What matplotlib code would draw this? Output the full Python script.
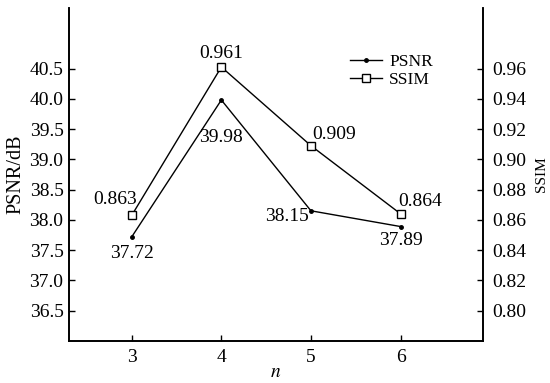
import matplotlib
matplotlib.use("Agg")
import matplotlib.pyplot as plt

plt.rcParams['font.family'] = ['Liberation Serif', 'DejaVu Serif']
plt.rcParams['mathtext.fontset'] = 'stix'

n_values = [3, 4, 5, 6]
psnr = [37.72, 39.98, 38.15, 37.89]
ssim = [0.863, 0.961, 0.909, 0.864]
psnr_ticks = [36.5, 37.0, 37.5, 38.0, 38.5, 39.0, 39.5, 40.0, 40.5]
ssim_ticks = [0.80, 0.82, 0.84, 0.86, 0.88, 0.90, 0.92, 0.94, 0.96]

# label offsets in points (dx, dy) for each point
psnr_offsets = [(0, -12), (0, -27), (-17, -4), (0, -10)]
ssim_offsets = [(-12, 11.5), (0, 10), (16.5, 8), (14, 8.6)]

fig = plt.figure(figsize=(5.5, 3.83), dpi=100)
ax = fig.add_axes([0.1255, 0.1097, 0.7527, 0.8695])
ax2 = ax.twinx()

l1, = ax.plot(n_values, psnr, color='black', linewidth=1.0, marker='o',
              markersize=2.5, label='PSNR')
l2, = ax2.plot(n_values, ssim, color='black', linewidth=1.0, marker='s',
               markersize=6, markerfacecolor='white', markeredgewidth=1.0,
               label='SSIM')

for x, y, off in zip(n_values, psnr, psnr_offsets):
    ax.annotate(f"{y:.2f}", (x, y), xytext=off, textcoords='offset points',
                ha='center', va='center', fontsize=14)
for x, y, off in zip(n_values, ssim, ssim_offsets):
    ax2.annotate(f"{y:.3f}", (x, y), xytext=off, textcoords='offset points',
                 ha='center', va='center', fontsize=14)

ax.set_xlim(2.3, 6.92)
ax.set_ylim(36.0, 41.5)
ax2.set_ylim(0.78, 1.0)
ax.set_xticks(n_values)
ax.set_yticks(psnr_ticks)
ax.set_yticklabels([f"{t:.1f}" for t in psnr_ticks])
ax2.set_yticks(ssim_ticks)
ax2.set_yticklabels([f"{t:.2f}" for t in ssim_ticks])

for a in (ax, ax2):
    a.tick_params(direction='in', length=4, width=1.0, labelsize=14, pad=4)
    for s in a.spines.values():
        s.set_linewidth(1.2)
ax.tick_params(axis='x', pad=6)
ax2.tick_params(axis='y', pad=7)
ax.spines['top'].set_visible(False)
ax2.spines['top'].set_visible(False)

ax.set_xlabel(r'$n$', fontsize=14, labelpad=-2)
ax.set_ylabel('PSNR/dB', fontsize=14.5, labelpad=3)
ax2.set_ylabel('SSIM', fontsize=11, labelpad=6)

ax2.legend([l1, l2], ['PSNR', 'SSIM'], loc='upper left',
           bbox_to_anchor=(0.679, 0.862), frameon=False, fontsize=12.5,
           borderaxespad=0, borderpad=0, handlelength=1.85,
           handletextpad=0.4, labelspacing=0.12)

fig.savefig("out.png", dpi=100)
